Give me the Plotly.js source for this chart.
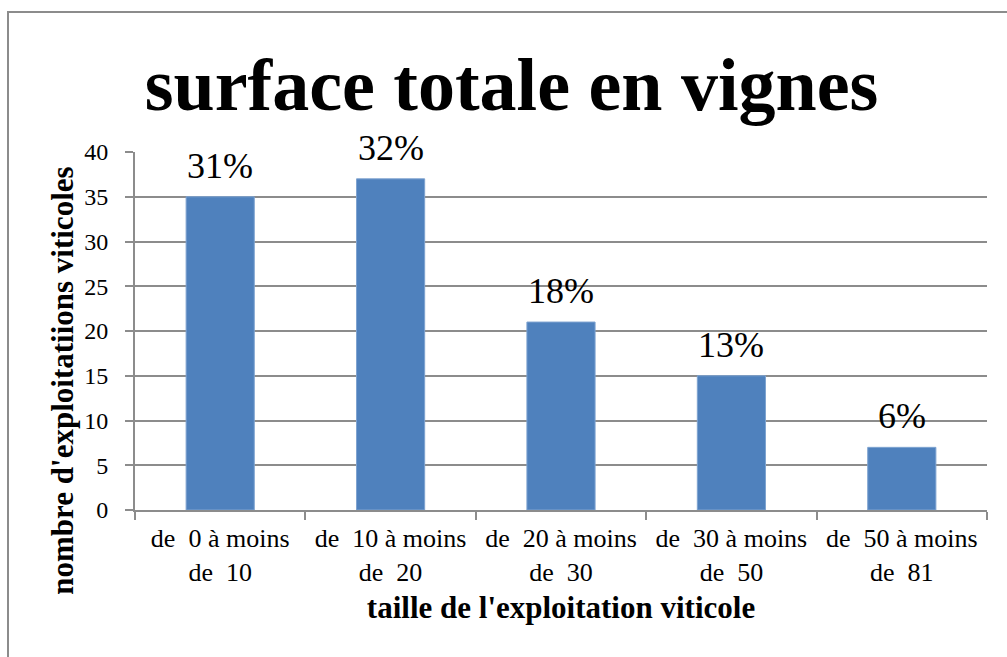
<!DOCTYPE html>
<html>
<head>
<meta charset="utf-8">
<script src="https://cdn.plot.ly/plotly-3.0.1.min.js"></script>
<style>
  body { margin: 0; background: #fff; }
  #chartplot { width: 1007px; height: 657px; }
  #frame {
    position: absolute; left: 7px; top: 11px; width: 1100px; height: 700px;
    border: 2px solid #8c8c8c; pointer-events: none;
  }
</style>
</head>
<body>
<div id="chartplot"></div>
<div id="frame"></div>
<script>
// categories (taille en ha) and counts
const categories = [
  "de\u00a0\u00a00 à moins<br>de\u00a0\u00a010",
  "de\u00a0\u00a010 à moins<br>de\u00a0\u00a020",
  "de\u00a0\u00a020 à moins<br>de\u00a0\u00a030",
  "de\u00a0\u00a030 à moins<br>de\u00a0\u00a050",
  "de\u00a0\u00a050 à moins<br>de\u00a0\u00a081"
];
const counts = [35, 37, 21, 15, 7];
const shares = ["31%", "32%", "18%", "13%", "6%"];
const yTicks = [0, 5, 10, 15, 20, 25, 30, 35, 40];

const serif = "Liberation Serif";
const gridCol = "#8c8c8c";

const data = [{
  type: "bar",
  x: categories,
  y: counts,
  width: 0.4,
  marker: { color: "#4f81bd", line: { color: "#7ea3d0", width: 1 } },
  hoverinfo: "x+y"
}];

const annotations = categories.map((c, i) => ({
  x: c, y: counts[i], xref: "x", yref: "y",
  text: shares[i], showarrow: false,
  yanchor: "bottom", yshift: 9,
  font: { family: serif, size: 36, color: "#000" }
}));

// y title sits lower than the plot centre in the original
annotations.push({
  xref: "paper", yref: "paper", x: -0.085, y: 0.36,
  xanchor: "center", yanchor: "middle",
  text: "<b>nombre d'exploitatiions viticoles</b>",
  textangle: -90, showarrow: false,
  font: { family: serif, size: 31, color: "#000" }
});

const layout = {
  width: 1007, height: 657,
  autosize: false,
  showlegend: false,
  paper_bgcolor: "#fff",
  plot_bgcolor: "#fff",
  font: { family: serif },
  margin: { l: 135, r: 20, t: 152, b: 147 },
  title: {
    text: "<b>surface totale en vignes</b>",
    font: { family: serif, size: 74, color: "#000" },
    x: 0.508, xanchor: "center",
    yref: "container", y: 0.872, yanchor: "middle"
  },
  xaxis: {
    type: "category",
    showline: true, linecolor: gridCol, linewidth: 2,
    ticks: "outside", tickson: "boundaries", ticklen: 8, tickwidth: 2, tickcolor: gridCol,
    showgrid: false,
    tickfont: { family: serif, size: 26, color: "#000" },
    ticklabelstandoff: 4,
    title: {
      text: "<b>taille de l'exploitation viticole</b>",
      font: { family: serif, size: 31, color: "#000" },
      standoff: 10
    }
  },
  yaxis: {
    range: [0, 40],
    tickvals: yTicks,
    showline: true, linecolor: gridCol, linewidth: 2,
    ticks: "outside", ticklen: 8, tickwidth: 2, tickcolor: gridCol,
    showgrid: true, gridcolor: gridCol, gridwidth: 2,
    zeroline: false,
    tickfont: { family: serif, size: 24, color: "#000" },
    ticklabelstandoff: 12
  },
  annotations: annotations
};

Plotly.newPlot("chartplot", data, layout, { displayModeBar: false });
</script>
</body>
</html>
